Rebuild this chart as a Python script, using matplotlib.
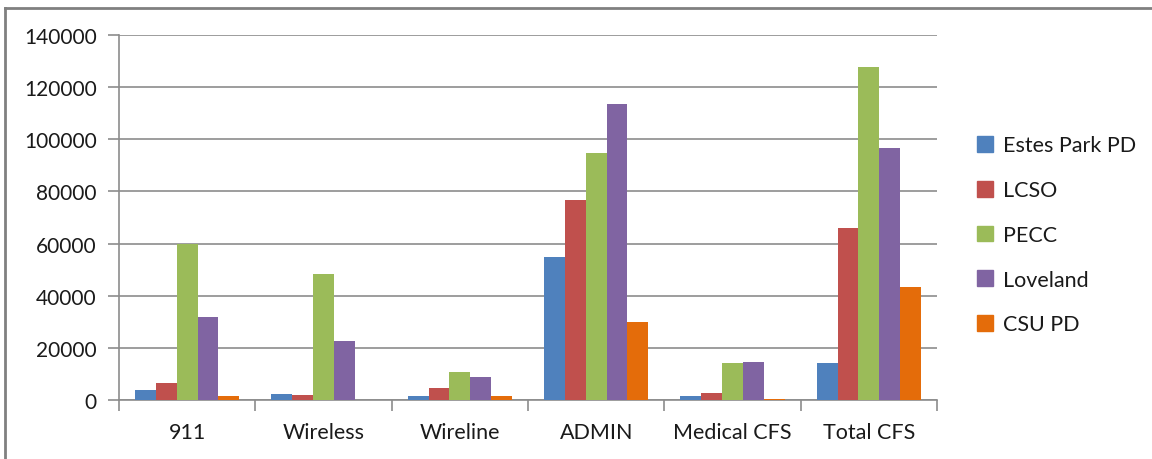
import numpy as np
import matplotlib.pyplot as plt
from matplotlib.lines import Line2D

# Call volumes by category and agency
categories = ["911", "Wireless", "Wireline", "ADMIN", "Medical CFS", "Total CFS"]
agencies = ["Estes Park PD", "LCSO", "PECC", "Loveland", "CSU PD"]
colors = ["#4F81BD", "#C0504D", "#9BBB59", "#8064A2", "#E46C0A"]

estes_park = [3700, 2300, 1500, 55000, 1400, 14200]
lcso = [6500, 1900, 4600, 76900, 2800, 65900]
pecc = [59800, 48300, 10900, 94600, 14200, 127700]
loveland = [31900, 22800, 8800, 113600, 14600, 96500]
csu_pd = [1500, 0, 1500, 30000, 500, 43200]
series = [estes_park, lcso, pecc, loveland, csu_pd]

plt.rcParams["font.family"] = ["Lato", "DejaVu Sans"]
txt = "#1a1a1a"
grey = "#8C8C8C"

fig = plt.figure(figsize=(11.52, 4.60), dpi=100)
ax = fig.add_axes([0.1033, 0.1283, 0.7101, 0.7934])

x = np.arange(len(categories))
bw = 0.153
for i, (vals, name, col) in enumerate(zip(series, agencies, colors)):
    ax.bar(x + (i - 2) * bw, vals, width=bw, color=col, label=name, zorder=3)

ax.set_xlim(-0.5, len(categories) - 0.5)
ax.set_ylim(0, 140000)
ax.set_yticks(np.arange(0, 140001, 20000))
ax.yaxis.grid(True, color=grey, linewidth=1.2, zorder=0)
ax.set_axisbelow(True)

for s in ["top", "right"]:
    ax.spines[s].set_visible(False)
for s in ["left", "bottom"]:
    ax.spines[s].set_color(grey)
    ax.spines[s].set_linewidth(1.2)

# category labels centred, tick marks on the boundaries
ax.set_xticks(x)
ax.set_xticklabels(categories, fontsize=15.5, color=txt)
ax.tick_params(axis="x", length=0, pad=16)
ax.set_xticks(np.arange(-0.5, len(categories)), minor=True)
ax.tick_params(axis="x", which="minor", length=8, width=1.2, color=grey)
ax.tick_params(axis="y", length=8, width=1.2, color=grey,
               labelsize=15, labelcolor=txt, pad=8)

handles = [plt.Rectangle((0, 0), 1, 1, color=c) for c in colors]
fig.legend(handles, agencies, loc="center left", bbox_to_anchor=(0.831, 0.487),
           frameon=False, fontsize=15.5, handlelength=0.75, handleheight=0.75,
           handletextpad=0.45, labelspacing=1.15, labelcolor=txt)

# chart border along top and left edges
fig.add_artist(Line2D([0.0045, 1.0], [0.9805, 0.9805], color="#808080", linewidth=2,
                      transform=fig.transFigure))
fig.add_artist(Line2D([0.0045, 0.0045], [0.0, 0.9805], color="#808080", linewidth=2,
                      transform=fig.transFigure))

fig.savefig("out.png", dpi=100)
